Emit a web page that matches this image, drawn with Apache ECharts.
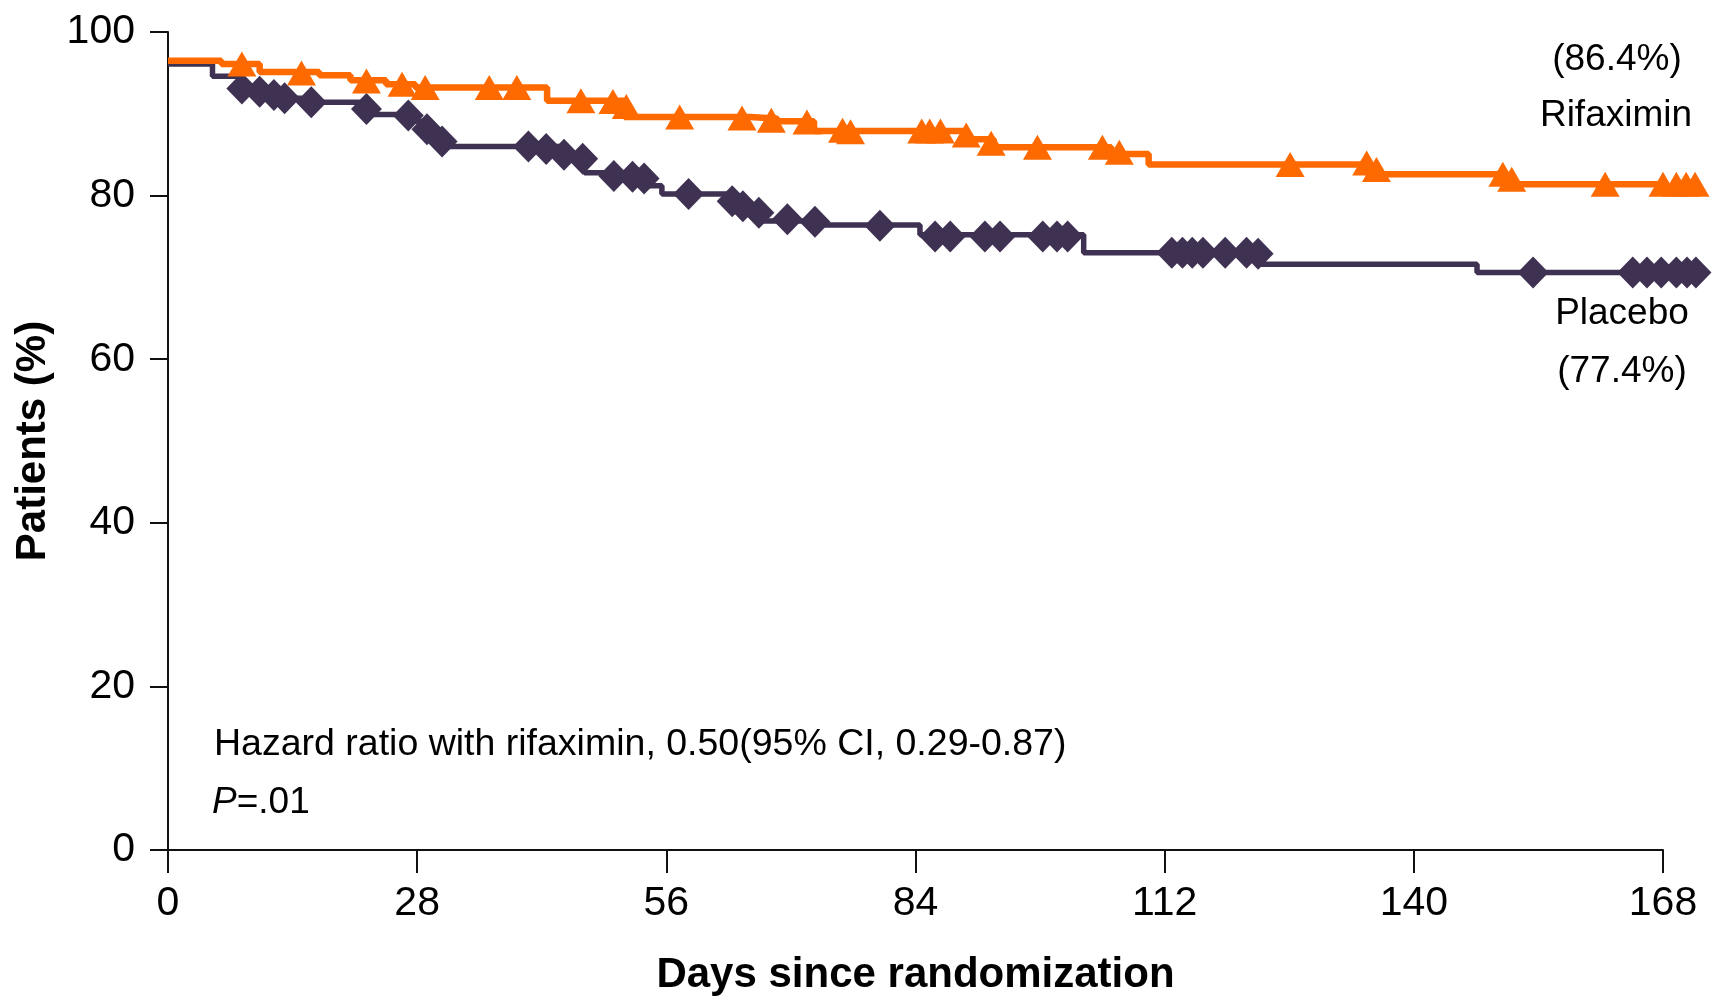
<!DOCTYPE html>
<html>
<head>
<meta charset="utf-8">
<title>Rifaximin vs Placebo</title>
<script src="https://cdn.jsdelivr.net/npm/echarts/dist/echarts.min.js"></script>
<style>
  html, body { margin: 0; padding: 0; background: #fff; }
  #chart_km { width: 1723px; height: 997px; }
</style>
</head>
<body>
<div id="chart_km"></div>
<script>
// x ticks (days since randomization)
var dayTicks = [0, 28, 56, 84, 112, 140, 168];
var pctTicks = [0, 20, 40, 60, 80, 100];

// Kaplan-Meier steps: [day, % after the drop]
var rifaximinSteps = [
  [0, 96.5], [6, 96.1], [10.3, 95.1], [17, 94.7], [20.5, 94.1], [24.5, 93.6],
  [27.8, 93.2], [42.6, 91.6], [51.3, 89.6], [65.5, 89.4], [68.5, 89.1],
  [72.6, 87.9], [89.5, 86.9], [92.8, 85.9], [106, 85.1], [110.2, 83.8],
  [134.8, 82.6], [150.3, 81.4], [172, 81.4]
];
var placeboSteps = [
  [0, 96.1], [5, 94.6], [8.3, 93.1], [10.5, 92.7], [12, 92.3], [13.5, 91.9],
  [16.2, 91.4], [22.3, 89.9], [27.5, 89.1], [29.2, 87.9], [30.8, 86.0],
  [44.5, 85.0], [46.8, 82.8], [53.8, 81.2], [55.5, 80.2], [63.5, 79.3],
  [64.8, 78.6], [66.5, 76.9], [73, 76.4], [84.5, 75.2], [102.9, 73.0],
  [122.5, 71.6], [147.1, 70.6], [172, 70.6]
];

// censored observations
var rifaximinCensored = [
  [8.3, 96.1], [15.0, 95.0], [22.3, 94.0], [26.3, 93.6], [28.9, 93.2],
  [36.1, 93.2], [39.2, 93.2], [46.4, 91.6], [50.0, 91.5], [51.5, 90.9],
  [57.5, 89.6], [64.5, 89.5], [67.8, 89.2], [71.8, 89.0], [75.8, 88.0],
  [76.7, 87.8], [84.7, 87.9], [85.6, 87.9], [86.8, 87.9], [89.7, 87.4],
  [92.5, 86.4], [97.7, 85.9], [105.0, 85.9], [106.9, 85.3], [126.1, 83.8],
  [134.7, 84.0], [135.8, 83.2], [150.0, 82.6], [151.0, 82.0], [161.5, 81.4],
  [168.0, 81.4], [169.5, 81.4], [170.6, 81.4], [171.6, 81.4]
];
var placeboCensored = [
  [8.3, 93.1], [10.3, 92.7], [11.9, 92.3], [13.1, 91.9], [16.1, 91.4],
  [22.3, 90.6], [27.0, 89.8], [29.1, 88.1], [30.8, 86.6], [40.5, 86.0],
  [42.5, 85.7], [44.5, 85.0], [46.6, 84.5], [50.1, 82.4], [52.2, 82.3],
  [53.5, 82.1], [58.5, 80.2], [63.4, 79.3], [64.6, 78.7], [66.4, 77.9],
  [69.6, 77.1], [72.7, 76.8], [80.0, 76.3], [86.2, 75.0], [87.9, 75.0],
  [91.8, 75.0], [93.5, 75.0], [98.3, 75.0], [99.9, 75.0], [101.1, 75.0],
  [112.8, 73.0], [114.0, 73.0], [115.1, 73.0], [116.3, 73.0], [118.8, 73.0],
  [121.2, 73.0], [122.5, 72.9], [153.4, 70.6], [164.6, 70.6], [166.2, 70.6],
  [167.8, 70.6], [169.5, 70.6], [170.7, 70.6], [171.7, 70.6]
];

var FONT = "'Liberation Sans', Arial, sans-serif";
var ORANGE = "#FF6A00";
var PURPLE = "#3F3152";

var myChart = echarts.init(document.getElementById("chart_km"));
var option = {
  animation: false,
  backgroundColor: "#fff",
  grid: { left: 168, right: 60, top: 32, bottom: 147, outerBoundsMode: "none", containLabel: false },
  xAxis: {
    type: "value",
    min: dayTicks[0],
    max: dayTicks[dayTicks.length - 1],
    interval: 28,
    name: "Days since randomization",
    nameLocation: "middle",
    nameGap: 104,
    nameTextStyle: { fontFamily: FONT, fontSize: 42, fontWeight: "bold", color: "#000" },
    axisLine: { lineStyle: { color: "#111", width: 2 } },
    axisTick: { length: 23, lineStyle: { color: "#111", width: 2 } },
    axisLabel: { margin: 33, fontFamily: FONT, fontSize: 41, color: "#000" },
    splitLine: { show: false }
  },
  yAxis: {
    type: "value",
    min: pctTicks[0],
    max: pctTicks[pctTicks.length - 1],
    interval: 20,
    name: "Patients (%)",
    nameLocation: "middle",
    nameGap: 114,
    nameTextStyle: { fontFamily: FONT, fontSize: 42, fontWeight: "bold", color: "#000" },
    axisLine: { show: true, lineStyle: { color: "#111", width: 2 } },
    axisTick: { show: true, length: 18, lineStyle: { color: "#111", width: 2 } },
    axisLabel: { margin: 33, fontFamily: FONT, fontSize: 41, color: "#000" },
    splitLine: { show: false }
  },
  series: [
    {
      name: "Placebo",
      type: "line",
      step: "end",
      clip: false,
      symbol: "none",
      data: placeboSteps,
      lineStyle: { color: PURPLE, width: 5.5 },
      z: 2
    },
    {
      name: "Rifaximin",
      type: "line",
      step: "end",
      clip: false,
      symbol: "none",
      data: rifaximinSteps,
      lineStyle: { color: ORANGE, width: 6.5 },
      z: 2
    },
    {
      name: "Placebo censored",
      type: "scatter",
      clip: false,
      symbol: "diamond",
      symbolSize: [31, 32],
      data: placeboCensored,
      itemStyle: { color: PURPLE, opacity: 1 },
      z: 3
    },
    {
      name: "Rifaximin censored",
      type: "scatter",
      clip: false,
      symbol: "triangle",
      symbolSize: [29, 25],
      data: rifaximinCensored,
      itemStyle: { color: ORANGE, opacity: 1 },
      z: 3
    }
  ],
  graphic: [
    { type: "text", x: 1617, y: 60, style: { text: "(86.4%)", font: "37px " + FONT, fill: "#000", align: "center", verticalAlign: "middle" } },
    { type: "text", x: 1616, y: 116, style: { text: "Rifaximin", font: "37px " + FONT, fill: "#000", align: "center", verticalAlign: "middle" } },
    { type: "text", x: 1622, y: 314, style: { text: "Placebo", font: "37px " + FONT, fill: "#000", align: "center", verticalAlign: "middle" } },
    { type: "text", x: 1622, y: 372, style: { text: "(77.4%)", font: "37px " + FONT, fill: "#000", align: "center", verticalAlign: "middle" } },
    { type: "text", x: 214, y: 745, style: { text: "Hazard ratio with rifaximin, 0.50(95% CI, 0.29-0.87)", font: "37.5px " + FONT, fill: "#000", align: "left", verticalAlign: "middle" } },
    {
      type: "text", x: 212, y: 803,
      style: {
        text: "{i|P}{n|=.01}",
        fill: "#000", align: "left", verticalAlign: "middle",
        rich: {
          i: { fontFamily: FONT, fontSize: 37, fontStyle: "italic", fill: "#000" },
          n: { fontFamily: FONT, fontSize: 37, fill: "#000" }
        }
      }
    }
  ]
};
myChart.setOption(option);
</script>
</body>
</html>
